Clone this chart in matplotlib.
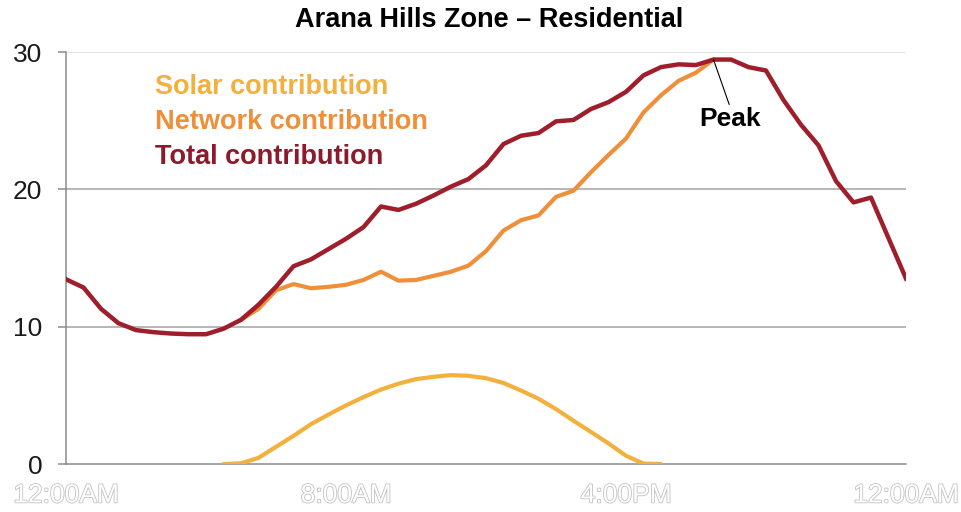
import numpy as np
import matplotlib as mpl
mpl.use("Agg")
import matplotlib.pyplot as plt
import matplotlib.patheffects as pe

mpl.rcParams.update({"font.family": ["Liberation Sans", "DejaVu Sans"], "font.size": 19})

# half-hour steps across one day (0 = 12:00AM ... 48 = 12:00AM next day)
half_hours = np.arange(49)
tick_pos = [0, 16, 32, 48]
tick_labels = ["12:00AM", "8:00AM", "4:00PM", "12:00AM"]

total = [13.45, 12.85, 11.3, 10.25, 9.75, 9.6, 9.5, 9.45, 9.45, 9.85,
         10.5, 11.6, 12.9, 14.4, 14.9, 15.65, 16.4, 17.25, 18.75, 18.5,
         18.95, 19.55, 20.2, 20.75, 21.75, 23.3, 23.9, 24.1, 24.95, 25.05,
         25.85, 26.35, 27.1, 28.3, 28.9, 29.1, 29.05, 29.45, 29.45, 28.9,
         28.65, 26.5, 24.7, 23.2, 20.6, 19.05, 19.4, 16.45, 13.5]

network_start = 10
network = [10.5, 11.3, 12.65, 13.1, 12.8, 12.9, 13.05, 13.4, 14.0, 13.35,
           13.4, 13.7, 14.0, 14.45, 15.5, 17.0, 17.75, 18.1, 19.45, 19.9,
           21.25, 22.5, 23.7, 25.6, 26.85, 27.9, 28.5, 29.45]

solar_start = 9
solar = [0.0, 0.05, 0.45, 1.25, 2.05, 2.9, 3.6, 4.27, 4.87, 5.42,
         5.85, 6.18, 6.35, 6.47, 6.42, 6.25, 5.9, 5.35, 4.75, 4.0,
         3.15, 2.33, 1.5, 0.6, 0.03, 0.0]

peak_idx = 37

C_SOLAR = "#f2b13e"
C_NET = "#ef8f3a"
C_TOTAL = "#9e1e2c"

fig = plt.figure(figsize=(9.61, 5.12), dpi=100)
ax = fig.add_axes([66/961, 48/512, 840/961, 412/512])

# gridlines
for v, c in [(10, "#a3a3a3"), (20, "#a3a3a3"), (30, "#dcdcdc")]:
    ax.axhline(v, color=c, lw=1.1, zorder=1)

xs_solar = half_hours[solar_start:solar_start + len(solar)]
xs_net = half_hours[network_start:network_start + len(network)]
ax.plot(xs_solar, solar, color=C_SOLAR, lw=3, solid_capstyle="round", zorder=3)
ax.plot(xs_net, network, color=C_NET, lw=3, solid_joinstyle="round", zorder=3)
ax.plot(half_hours, total, color=C_TOTAL, lw=3.2, solid_joinstyle="round", zorder=4)

ax.set_xlim(0, 48)
ax.set_ylim(0, 30)
for s in ["top", "right"]:
    ax.spines[s].set_visible(False)
ax.spines["left"].set_color("#8c8c8c")
ax.spines["bottom"].set_color("#8c8c8c")
ax.spines["left"].set_linewidth(1.1)
ax.spines["bottom"].set_linewidth(1.1)

ax.set_yticks([0, 10, 20, 30])
ax.tick_params(axis="y", length=6, width=1.1, color="#8c8c8c", pad=11,
               labelsize=19, labelcolor="#1a1a1a")
ax.set_xticks(tick_pos)
ax.set_xticklabels(tick_labels)
ax.tick_params(axis="x", length=0, pad=14, labelsize=19)
for lab in ax.get_xticklabels():
    lab.set_color("white")
    lab.set_path_effects([pe.withStroke(linewidth=1.2, foreground="#c2c2c2")])

# in-plot legend text
leg = [("Solar contribution", C_SOLAR, 0.898),
       ("Network contribution", C_NET, 0.813),
       ("Total contribution", "#8c1a2a", 0.728)]
for txt, col, yy in leg:
    ax.text(0.106, yy, txt, transform=ax.transAxes, color=col, fontsize=19.5,
            fontweight="bold", ha="left", va="baseline")

ax.annotate("Peak", xy=(half_hours[peak_idx], total[peak_idx]),
            xytext=(12, -43), textcoords="offset points",
            ha="center", va="center", fontsize=19, fontweight="bold", color="black",
            arrowprops=dict(arrowstyle="-", color="black", lw=0.8,
                            shrinkA=0, shrinkB=0, relpos=(0.5, 1.0)), zorder=6)

fig.text(489/961, 1 - 20/512, "Arana Hills Zone \u2013 Residential", ha="center",
         va="center", fontsize=19.5, fontweight="bold", color="black")

fig.savefig("out.png", dpi=100, facecolor="white")
